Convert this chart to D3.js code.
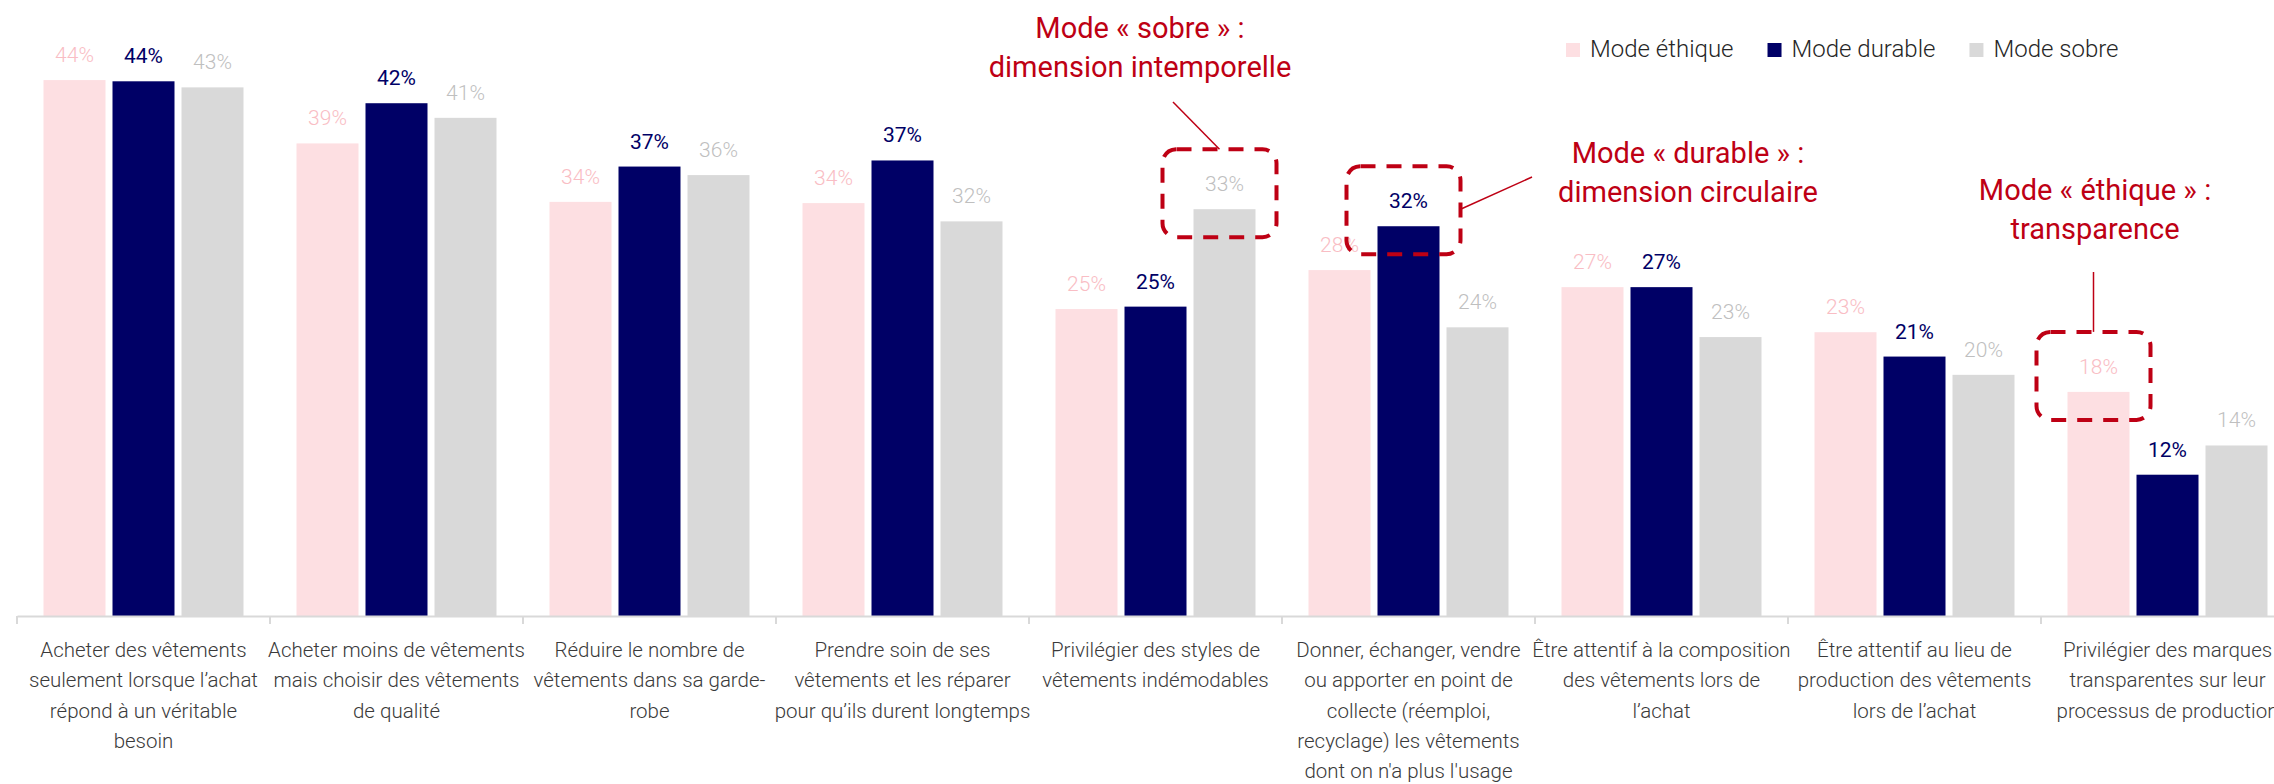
<!DOCTYPE html>
<html>
<head>
<meta charset="utf-8">
<script src="https://cdn.jsdelivr.net/npm/d3@7"></script>
<style>
  html, body { margin: 0; padding: 0; background: #ffffff; }
  svg { display: block; }
</style>
</head>
<body>
<svg id="chart" width="2274" height="784"></svg>
<script>
// ---------- DATA ----------
const categories = [
  "Acheter des vêtements seulement lorsque l’achat répond à un véritable besoin",
  "Acheter moins de vêtements mais choisir des vêtements de qualité",
  "Réduire le nombre de vêtements dans sa garde-robe",
  "Prendre soin de ses vêtements et les réparer pour qu’ils durent longtemps",
  "Privilégier des styles de vêtements indémodables",
  "Donner, échanger, vendre ou apporter en point de collecte (réemploi, recyclage) les vêtements dont on n'a plus l'usage",
  "Être attentif à la composition des vêtements lors de l’achat",
  "Être attentif au lieu de production des vêtements lors de l’achat",
  "Privilégier des marques transparentes sur leur processus de production"
];
const categoryLines = [
  ["Acheter des vêtements", "seulement lorsque l’achat", "répond à un véritable", "besoin"],
  ["Acheter moins de vêtements", "mais choisir des vêtements", "de qualité"],
  ["Réduire le nombre de", "vêtements dans sa garde-", "robe"],
  ["Prendre soin de ses", "vêtements et les réparer", "pour qu’ils durent longtemps"],
  ["Privilégier des styles de", "vêtements indémodables"],
  ["Donner, échanger, vendre", "ou apporter en point de", "collecte (réemploi,", "recyclage) les vêtements", "dont on n'a plus l'usage"],
  ["Être attentif à la composition", "des vêtements lors de", "l’achat"],
  ["Être attentif au lieu de", "production des vêtements", "lors de l’achat"],
  ["Privilégier des marques", "transparentes sur leur", "processus de production"]
];
const seriesNames = ["Mode éthique", "Mode durable", "Mode sobre"];
const ethique = [44.0, 38.8, 34.0, 33.9, 25.2, 28.4, 27.0, 23.3, 18.4];
const durable = [43.9, 42.1, 36.9, 37.4, 25.4, 32.0, 27.0, 21.3, 11.6];
const sobre   = [43.4, 40.9, 36.2, 32.4, 33.4, 23.7, 22.9, 19.8, 14.0];
const seriesValues = [ethique, durable, sobre];

// annotation texts (highlighted series index / category index)
const annotationSeries = [2, 1, 0];
const annotationCats = [4, 5, 8];
const annotationTexts = [
  ["Mode « sobre » :", "dimension intemporelle"],
  ["Mode « durable » :", "dimension circulaire"],
  ["Mode « éthique » :", "transparence"]
];

// ---------- STYLE / LAYOUT ----------
const barColors = ["#FDDFE2", "#000066", "#D9D9D9"];
const labelColors = ["#F9BDC4", "#000066", "#BFBFBF"];
const red = "#BE0014";
const FONT = "Roboto, 'Open Sans', sans-serif";

const svg = d3.select("#chart");
const baseY = 616;

const x0 = d3.scaleBand().domain(categories).range([17, 2294]).paddingInner(0).paddingOuter(0);
const x1 = d3.scaleBand().domain(seriesNames).range([26.5, 226.5]).paddingInner(7 / 69).paddingOuter(0);
const y = d3.scaleLinear().domain([0, 50]).range([baseY, 7]);

// ---------- BARS ----------
const groups = svg.append("g").selectAll("g.cat")
  .data(categories)
  .join("g")
  .attr("class", "cat")
  .attr("transform", d => `translate(${x0(d)},0)`);

groups.each(function (c, ci) {
  const g = d3.select(this);
  const rows = seriesNames.map((s, si) => ({ s, si, v: seriesValues[si][ci] }));
  g.selectAll("rect")
    .data(rows)
    .join("rect")
    .attr("x", d => x1(d.s))
    .attr("y", d => y(d.v))
    .attr("width", x1.bandwidth())
    .attr("height", d => y(0) - y(d.v))
    .attr("fill", d => barColors[d.si]);
  g.selectAll("text.val")
    .data(rows)
    .join("text")
    .attr("class", "val")
    .attr("x", d => x1(d.s) + x1.bandwidth() / 2)
    .attr("y", d => y(d.v) - 18)
    .attr("text-anchor", "middle")
    .attr("font-family", FONT)
    .attr("font-size", 21)
    .attr("font-weight", d => d.si === 1 ? 400 : 300)
    .attr("fill", d => labelColors[d.si])
    .text(d => Math.round(d.v) + "%");
});

// ---------- AXIS ----------
const axisG = svg.append("g").attr("transform", `translate(0,${baseY})`)
  .call(d3.axisBottom(x0).tickSize(0).tickSizeOuter(0).tickFormat(""));
axisG.select(".domain").attr("stroke", "#D9D9D9").attr("stroke-width", 2);
axisG.selectAll(".tick").remove();
const boundaries = categories.map(c => x0(c)).concat([x0.range()[1]]);
axisG.selectAll("line.bound")
  .data(boundaries)
  .join("line")
  .attr("class", "bound")
  .attr("x1", d => d).attr("x2", d => d)
  .attr("y1", 0).attr("y2", 8)
  .attr("stroke", "#D9D9D9").attr("stroke-width", 2);

// category labels
svg.append("g").selectAll("text.cat")
  .data(categories)
  .join("text")
  .attr("class", "cat")
  .attr("text-anchor", "middle")
  .attr("font-family", FONT)
  .attr("font-size", 20.5)
  .attr("font-weight", 300)
  .attr("fill", "#3a3a3a")
  .each(function (c, i) {
    const t = d3.select(this);
    categoryLines[i].forEach((line, li) => {
      t.append("tspan")
        .attr("x", x0(c) + x0.bandwidth() / 2)
        .attr("y", 657 + li * 30.3)
        .text(line);
    });
  });

// ---------- LEGEND ----------
const legend = svg.append("g");
let lx = 1566;
seriesNames.forEach((s, i) => {
  legend.append("rect").attr("x", lx).attr("y", 43).attr("width", 14).attr("height", 14)
    .attr("fill", barColors[i]);
  const t = legend.append("text").attr("x", lx + 24).attr("y", 57)
    .attr("font-family", FONT).attr("font-size", 24).attr("font-weight", 300)
    .attr("fill", "#262626").text(s);
  lx = lx + 24 + t.node().getComputedTextLength() + 34;
});

// ---------- ANNOTATIONS ----------
const annLayout = [
  { tx: 1140, ty: 38, leader: (b) => [[1173, 102], [b.cx, b.top]] },
  { tx: 1688, ty: 163, leader: (b) => [[b.right, b.top + 43], [1532, 177]] },
  { tx: 2095, ty: 200, leader: (b) => [[b.cx, 272], [b.cx, b.top]] }
];
const ann = svg.append("g");
annotationTexts.forEach((lines, k) => {
  const si = annotationSeries[k], ci = annotationCats[k];
  const v = seriesValues[si][ci];
  const cx = x0(categories[ci]) + x1(seriesNames[si]) + x1.bandwidth() / 2 - 5;
  const w = 114, h = 88;
  const top = y(v) - 60;
  const box = { cx, top, left: cx - w / 2, right: cx + w / 2 };
  ann.append("rect")
    .attr("x", box.left).attr("y", top).attr("width", w).attr("height", h)
    .attr("rx", 14).attr("ry", 14)
    .attr("fill", "none").attr("stroke", red).attr("stroke-width", 4)
    .attr("stroke-dasharray", "15,11");
  const L = annLayout[k];
  const pts = L.leader(box);
  ann.append("line")
    .attr("x1", pts[0][0]).attr("y1", pts[0][1])
    .attr("x2", pts[1][0]).attr("y2", pts[1][1])
    .attr("stroke", red).attr("stroke-width", 1.5);
  const t = ann.append("text")
    .attr("text-anchor", "middle")
    .attr("font-family", FONT).attr("font-size", 29).attr("font-weight", 400)
    .attr("fill", red);
  lines.forEach((line, li) => {
    t.append("tspan").attr("x", L.tx).attr("y", L.ty + li * 39).text(line);
  });
});
</script>
</body>
</html>
